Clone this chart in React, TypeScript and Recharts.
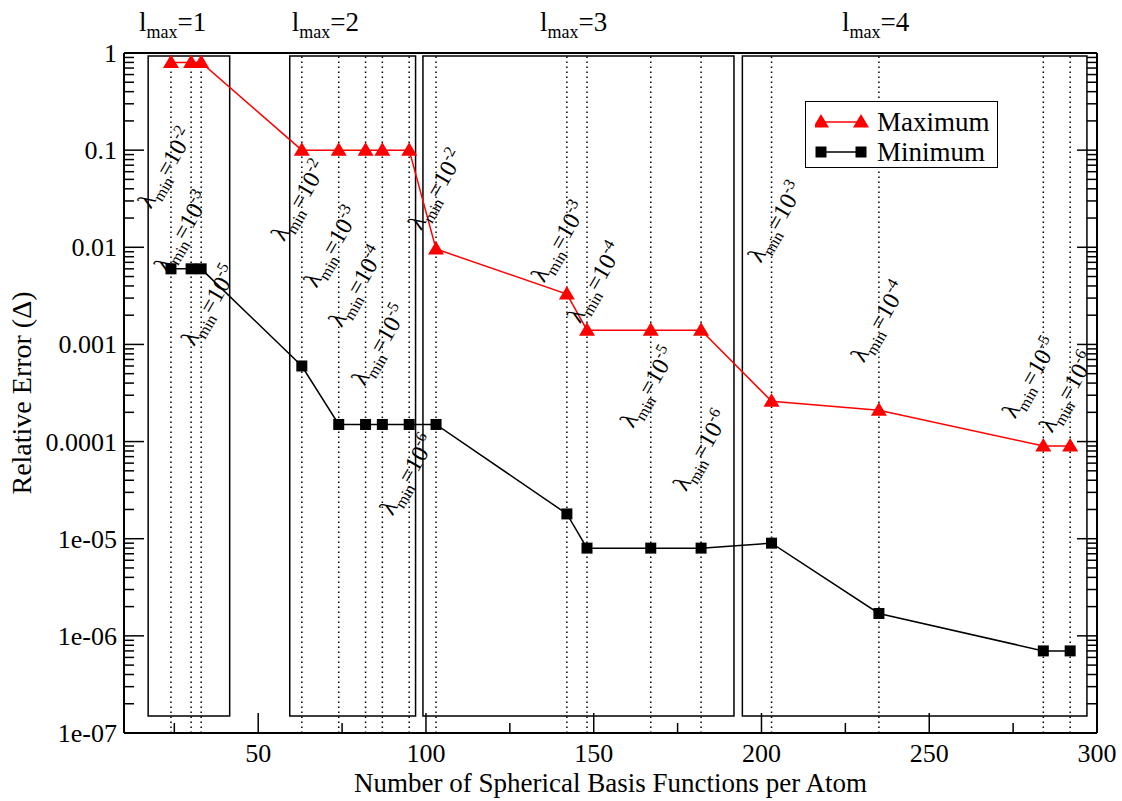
import React from 'react';
import { ComposedChart, Line, XAxis, YAxis, ReferenceArea, ReferenceLine, ReferenceDot, Legend } from 'recharts';

const FONT = '"Liberation Serif", "Times New Roman", serif';

// basis functions per atom, one entry per calculation
const basisCounts = [24, 30, 33, 63, 74, 82, 87, 95, 103, 142, 148, 167, 182, 203, 235, 284, 292];
const maxError = [0.8, 0.8, 0.8, 0.1, 0.1, 0.1, 0.1, 0.1, 0.0096, 0.0033, 0.0014, 0.0014, 0.0014, 0.00026, 0.00021, 0.00009, 0.00009];
const minError = [0.006, 0.006, 0.006, 0.0006, 0.00015, 0.00015, 0.00015, 0.00015, 0.00015, 0.000018, 0.000008, 0.000008, 0.000008, 0.000009, 0.0000017, 0.0000007, 0.0000007];

// lambda_min annotation per calculation (exponent, and where its label sits in data units)
const lambdaExponents = ['-2', '-3', '-5', '-2', '-3', '-4', '-5', '-6', '-2', '-3', '-4', '-5', '-6', '-3', '-4', '-5', '-6'];
const lambdaLabelX = [22.7, 27.5, 35.6, 62.4, 72.1, 79.5, 86.4, 94.7, 103.2, 139.9, 150.6, 166.4, 182.2, 204.5, 235.2, 280.3, 291.3];
const lambdaLabelAt = [0.065, 0.0144, 0.0025, 0.03, 0.01, 0.0039, 0.00098, 0.000045, 0.039, 0.0113, 0.0043, 0.00036, 0.00008, 0.018, 0.0017, 0.00045, 0.00032];

// l_max groups
const lmaxNames = ['1', '2', '3', '4'];
const lmaxLabelX = [24.5, 70, 144, 234];
const groupStart = [17.2, 59.4, 99.1, 194.3];
const groupEnd = [41.5, 96.9, 191.8, 297];
const groupTop = 0.93;
const groupBottom = 1.5e-7;

const xTicks = [25, 50, 75, 100, 125, 150, 175, 200, 225, 250, 275, 300];
const yMajorTicks = [1e-7, 1e-6, 1e-5, 1e-4, 1e-3, 0.01, 0.1, 1];
const yTickLabels = ['1e-07', '1e-06', '1e-05', '0.0001', '0.001', '0.01', '0.1', '1'];
const yTicks = yMajorTicks.flatMap((t, i) =>
  i === yMajorTicks.length - 1 ? [t] : [t, ...[2, 3, 4, 5, 6, 7, 8, 9].map((m) => m * t)]
);

const data = basisCounts.map((n, i) => ({ n, max: maxError[i], min: minError[i] }));

const majorIndex = (v: number) =>
  yMajorTicks.findIndex((t) => Math.abs(Math.log10(t) - Math.log10(v)) < 1e-6);

const LeftTick = ({ x, y, payload }: any) => {
  const idx = majorIndex(payload.value);
  return (
    <g>
      <line x1={x} x2={x + (idx >= 0 ? 20 : 10)} y1={y} y2={y} stroke="#000" strokeWidth={1.5} />
      {idx >= 0 && (
        <text x={x - 7} y={y + 9} textAnchor="end" fontFamily={FONT} fontSize={26} fill="#000">
          {yTickLabels[idx]}
        </text>
      )}
    </g>
  );
};

const RightTick = ({ x, y, payload }: any) => {
  const idx = majorIndex(payload.value);
  return <line x1={x} x2={x - (idx >= 0 ? 20 : 10)} y1={y} y2={y} stroke="#000" strokeWidth={1.5} />;
};

const BottomTick = ({ x, y, payload }: any) => {
  const major = payload.value % 50 === 0;
  return (
    <g>
      <line x1={x} x2={x} y1={y} y2={y - (major ? 20 : 10)} stroke="#000" strokeWidth={1.5} />
      {major && (
        <text x={x} y={y + 29} textAnchor="middle" fontFamily={FONT} fontSize={26} fill="#000">
          {payload.value}
        </text>
      )}
    </g>
  );
};

const TopTick = ({ x, y, payload }: any) => {
  const major = payload.value % 50 === 0;
  return <line x1={x} x2={x} y1={y} y2={y + (major ? 20 : 10)} stroke="#000" strokeWidth={1.5} />;
};

const Triangle = ({ cx, cy, fill }: any) => (
  <polygon points={`${cx},${cy - 8} ${cx - 8},${cy + 5.5} ${cx + 8},${cy + 5.5}`} fill={fill} />
);

const Square = ({ cx, cy, fill }: any) => <rect x={cx - 5.5} y={cy - 5.5} width={11} height={11} fill={fill} />;

const LambdaLabel = ({ cx, cy, exp }: any) => (
  <g transform={`translate(${cx},${cy}) rotate(-60)`}>
    <text x={0} y={7} textAnchor="middle" fontFamily={FONT} fontSize={24} fill="#000">
      λ
      <tspan fontSize={16} dy={6}>min</tspan>
      <tspan dy={-6}>=10</tspan>
      <tspan fontSize={16} dy={-10}>{exp}</tspan>
    </text>
  </g>
);

const LmaxLabel = ({ cx, cy, name }: any) => (
  <text x={cx} y={cy - 22} textAnchor="middle" fontFamily={FONT} fontSize={27} fill="#000">
    l<tspan fontSize={18} dy={7}>max</tspan>
    <tspan dy={-7}>={name}</tspan>
  </text>
);

const LegendBox = ({ payload }: any) => (
  <div
    style={{
      width: 193,
      height: 67,
      boxSizing: 'border-box',
      border: '1.5px solid #000',
      background: '#fff',
      padding: '5px 0 0 9px',
      fontFamily: FONT,
      fontSize: 27,
      lineHeight: '30px',
    }}
  >
    {(payload || []).map((entry: any) => (
      <div key={entry.value} style={{ display: 'flex', alignItems: 'center', height: 30 }}>
        <svg width={62} height={20}>
          <line x1={6} x2={46} y1={10} y2={10} stroke={entry.color} strokeWidth={1.5} />
          {entry.dataKey === 'max' ? (
            <>
              <Triangle cx={6} cy={10} fill={entry.color} />
              <Triangle cx={46} cy={10} fill={entry.color} />
            </>
          ) : (
            <>
              <Square cx={6} cy={10} fill={entry.color} />
              <Square cx={46} cy={10} fill={entry.color} />
            </>
          )}
        </svg>
        <span>{entry.value}</span>
      </div>
    ))}
  </div>
);

export default function App() {
  return (
    <div style={{ position: 'absolute', left: 0, top: 0, background: '#fff' }}>
      <ComposedChart width={1122} height={801} data={data} margin={{ top: 0, right: 0, bottom: 0, left: 0 }}>
        <XAxis
          dataKey="n"
          type="number"
          domain={[10, 300]}
          ticks={xTicks}
          interval={0}
          tickSize={0}
          tickMargin={0}
          tick={<BottomTick />}
          height={68}
          axisLine={{ stroke: '#000', strokeWidth: 2 }}
          allowDataOverflow
          label={{
            content: ({ viewBox }: any) => (
              <text x={viewBox.x + viewBox.width / 2} y={viewBox.y + 59} textAnchor="middle" fontFamily={FONT} fontSize={27} fill="#000">
                Number of Spherical Basis Functions per Atom
              </text>
            ),
          }}
        />
        <XAxis
          xAxisId="top"
          orientation="top"
          type="number"
          domain={[10, 300]}
          ticks={xTicks}
          interval={0}
          tickSize={0}
          tickMargin={0}
          tick={<TopTick />}
          height={53}
          axisLine={{ stroke: '#000', strokeWidth: 2 }}
          allowDataOverflow
        />
        <YAxis
          scale="log"
          type="number"
          domain={[1e-7, 1]}
          ticks={yTicks}
          interval={0}
          tickSize={0}
          tickMargin={0}
          tick={<LeftTick />}
          width={124}
          axisLine={{ stroke: '#000', strokeWidth: 2 }}
          allowDataOverflow
          label={{
            content: ({ viewBox }: any) => {
              const cy = viewBox.y + viewBox.height / 2;
              return (
                <text x={31} y={cy} transform={`rotate(-90, 31, ${cy})`} textAnchor="middle" fontFamily={FONT} fontSize={28} fill="#000">
                  Relative Error (Δ)
                </text>
              );
            },
          }}
        />
        <YAxis
          yAxisId="right"
          orientation="right"
          scale="log"
          type="number"
          domain={[1e-7, 1]}
          ticks={yTicks}
          interval={0}
          tickSize={0}
          tickMargin={0}
          tick={<RightTick />}
          width={25}
          axisLine={{ stroke: '#000', strokeWidth: 2 }}
          allowDataOverflow
        />
        <Legend
          layout="horizontal"
          verticalAlign="middle"
          align="center"
          wrapperStyle={{ left: 805, top: 101, width: 193, height: 67 }}
          content={<LegendBox />}
        />

        {groupStart.map((s, i) => (
          <ReferenceArea
            key={`g${i}`}
            x1={s}
            x2={groupEnd[i]}
            y1={groupBottom}
            y2={groupTop}
            fill="none"
            fillOpacity={0}
            stroke="#000"
            strokeWidth={1.5}
            ifOverflow="visible"
          />
        ))}
        {basisCounts.map((n) => (
          <ReferenceLine key={`v${n}`} x={n} stroke="#000" strokeWidth={1.5} strokeDasharray="1.5 3.5" />
        ))}

        <Line
          dataKey="max"
          name="Maximum"
          stroke="#ff0000"
          strokeWidth={1.5}
          isAnimationActive={false}
          dot={(p: any) => <Triangle key={`t${p.index}`} cx={p.cx} cy={p.cy} fill="#ff0000" />}
          activeDot={false}
        />
        <Line
          dataKey="min"
          name="Minimum"
          stroke="#000000"
          strokeWidth={1.5}
          isAnimationActive={false}
          dot={(p: any) => <Square key={`s${p.index}`} cx={p.cx} cy={p.cy} fill="#000000" />}
          activeDot={false}
        />

        {lambdaLabelX.map((lx, i) => (
          <ReferenceDot
            key={`l${i}`}
            x={lx}
            y={lambdaLabelAt[i]}
            ifOverflow="visible"
            shape={(p: any) => <LambdaLabel cx={p.cx} cy={p.cy} exp={lambdaExponents[i]} />}
          />
        ))}
        {lmaxNames.map((name, i) => (
          <ReferenceDot
            key={`m${name}`}
            x={lmaxLabelX[i]}
            y={1}
            ifOverflow="visible"
            shape={(p: any) => <LmaxLabel cx={p.cx} cy={p.cy} name={name} />}
          />
        ))}
      </ComposedChart>
    </div>
  );
}
